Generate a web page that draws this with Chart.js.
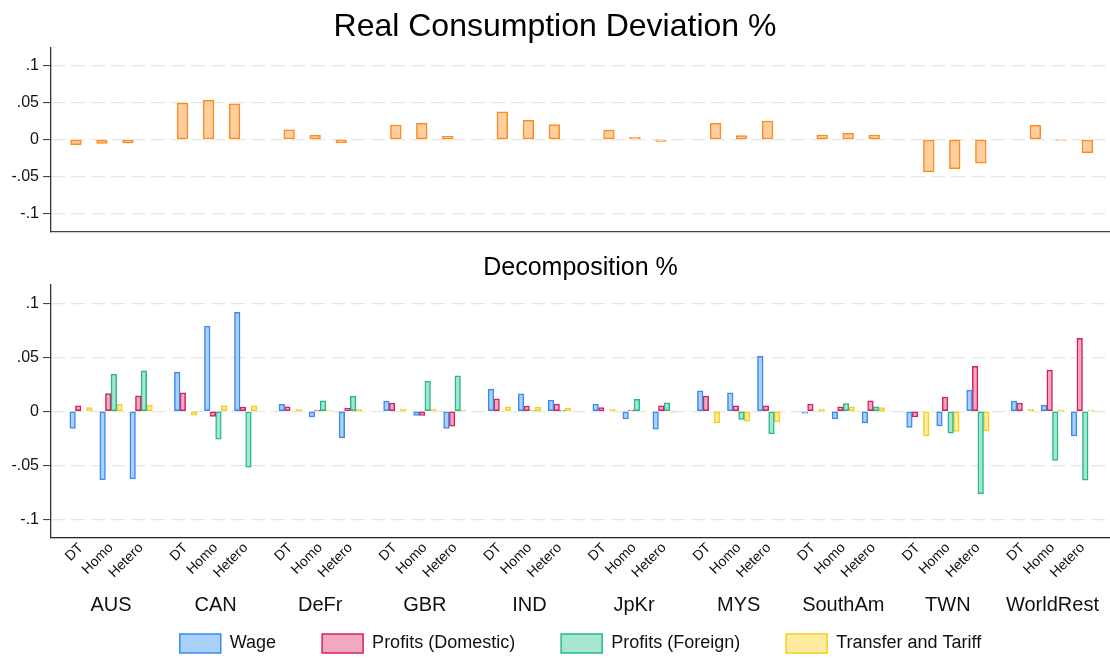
<!DOCTYPE html>
<html>
<head>
<meta charset="utf-8">
<script src="https://cdn.jsdelivr.net/npm/chart.js@4.4.1/dist/chart.umd.min.js"></script>
<style>
  html, body { margin: 0; padding: 0; background: #fff; }
  #wrap { position: relative; width: 1110px; height: 659px; overflow: hidden; }
  #topBox { position: absolute; left: 0; top: 0; width: 1110px; height: 245px; }
  #botBox { position: absolute; left: 0; top: 245px; width: 1110px; height: 414px; }
</style>
</head>
<body>
<div id="wrap">
  <div id="topBox"><canvas id="topChart"></canvas></div>
  <div id="botBox"><canvas id="botChart"></canvas></div>
</div>
<script>
// categories
const regions = ['AUS', 'CAN', 'DeFr', 'GBR', 'IND', 'JpKr', 'MYS', 'SouthAm', 'TWN', 'WorldRest'];
const scenarios = ['DT', 'Homo', 'Hetero'];

// y ticks
const yTicks = [-0.1, -0.05, 0, 0.05, 0.1];
const yTickLabels = ['-.1', '-.05', '0', '.05', '.1'];

// top panel, 3 values per region (DT, Homo, Hetero)
const realConsumption = [
  -0.0070, -0.0055, -0.0049,
   0.0490,  0.0527,  0.0480,
   0.0130,  0.0054, -0.0045,
   0.0194,  0.0216,  0.0040,
   0.0370,  0.0257,  0.0200,
   0.0126,  0.0027, -0.0027,
   0.0216,  0.0050,  0.0248,
   0.0059,  0.0081,  0.0059,
  -0.0437, -0.0396, -0.0320,
   0.0191, -0.0013, -0.0180
];

// bottom panel series
const wage = [
  -0.0157, -0.0634, -0.0625,
   0.0363,  0.0790,  0.0917,
   0.0065, -0.0052, -0.0246,
   0.0095, -0.0037, -0.0157,
   0.0206,  0.0163,  0.0105,
   0.0068, -0.0071, -0.0166,
   0.0190,  0.0172,  0.0510,
  -0.0018, -0.0071, -0.0108,
  -0.0148, -0.0135,  0.0197,
   0.0095,  0.0058, -0.0228
];
const profitsDomestic = [
   0.0050,  0.0165,  0.0144,
   0.0171, -0.0046,  0.0040,
   0.0043,  0.0009,  0.0031,
   0.0077, -0.0037, -0.0138,
   0.0117,  0.0049,  0.0068,
   0.0034,  0.0009,  0.0052,
   0.0142,  0.0052,  0.0052,
   0.0068,  0.0043,  0.0098,
  -0.0052,  0.0132,  0.0418,
   0.0077,  0.0382,  0.0677
];
const profitsForeign = [
  null,  0.0345,  0.0375,
  null, -0.0258, -0.0517,
  null,  0.0098,  0.0142,
  null,  0.0280,  0.0329,
  null,  0.0008,  0.0012,
  null,  0.0111,  0.0080,
  null, -0.0074, -0.0209,
  null,  0.0071,  0.0043,
  null, -0.0203, -0.0763,
  null, -0.0455, -0.0637
];
const transferTariff = [
   0.0034,  0.0068,  0.0058,
  -0.0035,  0.0050,  0.0050,
   0.0022,  0.0012,  0.0022,
   0.0022,  0.0018,  0.0012,
   0.0043,  0.0040,  0.0031,
   0.0022, -0.0006, -0.0009,
  -0.0108, -0.0092, -0.0098,
   0.0022,  0.0043,  0.0034,
  -0.0228, -0.0185, -0.0182,
   0.0022,  0.0015,  0.0012
];

Chart.defaults.font.family = '"Liberation Sans", Arial, Helvetica, sans-serif';
Chart.defaults.color = '#111';
Chart.defaults.animation = false;

// spacing of DT/Homo/Hetero inside a region, in region units
const topStep = 0.244;
const botStep = 0.287;

function toPoints(values, step) {
  return values.map((v, i) => ({ x: Math.floor(i / 3) + (i % 3 - 1) * step, y: v }));
}

function yScale(min, max) {
  return {
    min: min,
    max: max,
    afterBuildTicks: s => { s.ticks = yTicks.map(v => ({ value: v })); },
    afterFit: s => { s.width = 51; },
    ticks: { callback: (v, i) => yTickLabels[i], font: { size: 16 }, padding: 4, color: '#111' },
    grid: { color: '#e6e6e6', lineWidth: 1.2, tickLength: 8, tickColor: '#333', tickWidth: 1 },
    border: { display: true, color: '#333', width: 1.3, dash: [14, 6] }
  };
}

// top chart
new Chart(document.getElementById('topChart'), {
  type: 'bar',
  data: {
    datasets: [{
      label: 'Real Consumption Deviation',
      data: toPoints(realConsumption, topStep),
      backgroundColor: '#ffcf9f',
      borderColor: '#ff8b1f',
      borderWidth: 1.5,
      borderSkipped: false,
      barThickness: 10.7
    }]
  },
  options: {
    responsive: true,
    maintainAspectRatio: false,
    layout: { padding: 0 },
    plugins: {
      legend: { display: false },
      tooltip: { enabled: false },
      title: {
        display: true,
        text: 'Real Consumption Deviation %',
        color: '#000',
        font: { size: 32, weight: 'normal' },
        padding: { top: 8, bottom: 1 }
      }
    },
    scales: {
      x: {
        type: 'linear',
        min: -0.478,
        max: 9.456,
        offset: false,
        ticks: { display: false },
        grid: { display: false, drawTicks: false, offset: false },
        border: { display: true, color: '#444', width: 1.3 },
        afterFit: s => { s.height = 13.3; s.paddingLeft = 0; s.paddingRight = 0; }
      },
      y: yScale(-0.124, 0.124)
    }
  }
});

// bottom chart
const botSeries = [
  { label: 'Wage', values: wage, fill: '#abd0f9', line: '#3b8bef' },
  { label: 'Profits (Domestic)', values: profitsDomestic, fill: '#f0a9c1', line: '#d6205f' },
  { label: 'Profits (Foreign)', values: profitsForeign, fill: '#a5e7d0', line: '#27b98a' },
  { label: 'Transfer and Tariff', values: transferTariff, fill: '#fdeca0', line: '#f5cf1c' }
];

const scenarioTicks = regions.flatMap((r, g) => scenarios.map((s, k) => g + (k - 1) * botStep));
const regionTicks = regions.map((r, g) => g);

new Chart(document.getElementById('botChart'), {
  type: 'bar',
  data: {
    datasets: botSeries.map(s => ({
      label: s.label,
      data: toPoints(s.values, botStep),
      backgroundColor: s.fill,
      borderColor: s.line,
      borderWidth: 1.5,
      borderSkipped: false,
      barThickness: 5.6
    }))
  },
  options: {
    responsive: true,
    maintainAspectRatio: false,
    layout: { padding: { top: 0, left: 0, right: 0, bottom: -4 } },
    plugins: {
      tooltip: { enabled: false },
      title: {
        display: true,
        text: 'Decomposition %',
        color: '#000',
        fullSize: false,
        font: { size: 25, weight: 'normal' },
        padding: { top: 8, bottom: 2 }
      },
      legend: {
        position: 'bottom',
        fullSize: false,
        labels: { boxWidth: 41, boxHeight: 19, padding: 46, font: { size: 18 }, color: '#111' }
      }
    },
    scales: {
      x: {
        type: 'linear',
        min: -0.574,
        max: 9.55,
        offset: false,
        afterBuildTicks: s => { s.ticks = scenarioTicks.map(v => ({ value: v })); },
        ticks: {
          autoSkip: false, minRotation: 45, maxRotation: 45, padding: 2,
          font: { size: 14 }, color: '#111',
          callback: (v, i) => scenarios[i % 3]
        },
        grid: { display: false, drawTicks: false, offset: false },
        border: { display: true, color: '#222', width: 1.3 },
        afterFit: s => { s.height = 50.3; s.paddingLeft = 0; s.paddingRight = 0; }
      },
      x2: {
        type: 'linear',
        position: 'bottom',
        min: -0.574,
        max: 9.55,
        offset: false,
        afterBuildTicks: s => { s.ticks = regionTicks.map(v => ({ value: v })); },
        ticks: {
          autoSkip: false, minRotation: 0, maxRotation: 0, mirror: true, padding: -29.7,
          font: { size: 20 }, color: '#111',
          callback: (v, i) => regions[i]
        },
        grid: { display: false, drawTicks: false },
        border: { display: false },
        afterFit: s => { s.height = 0; s.paddingLeft = 0; s.paddingRight = 0; }
      },
      y: yScale(-0.117, 0.117)
    }
  }
});
</script>
</body>
</html>
